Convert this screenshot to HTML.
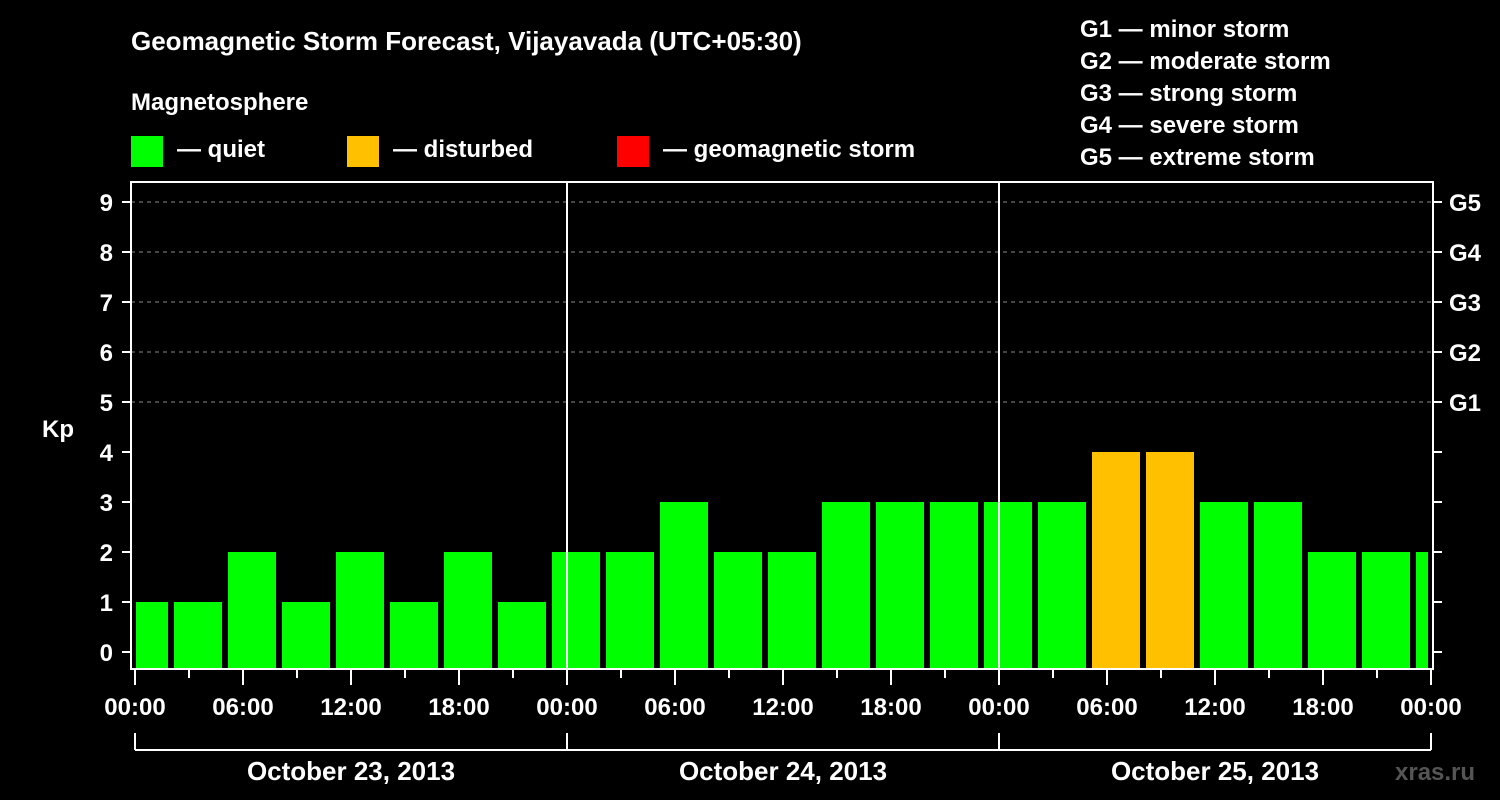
<!DOCTYPE html>
<html><head><meta charset="utf-8"><style>
html,body{margin:0;padding:0;background:#000;}
svg{display:block;font-family:"Liberation Sans",sans-serif;font-weight:bold;}
</style></head><body>
<svg width="1500" height="800" xmlns="http://www.w3.org/2000/svg">
<text x="131" y="50" fill="#fff" font-size="26">Geomagnetic Storm Forecast, Vijayavada (UTC+05:30)</text>
<text x="131" y="110" fill="#fff" font-size="24">Magnetosphere</text>
<g><rect x="131" y="136" width="32" height="31" fill="#00ff00"/><text x="177" y="157" fill="#fff" font-size="24">— quiet</text></g>
<g><rect x="347" y="136" width="32" height="31" fill="#ffc000"/><text x="393" y="157" fill="#fff" font-size="24">— disturbed</text></g>
<g><rect x="617" y="136" width="32" height="31" fill="#ff0000"/><text x="663" y="157" fill="#fff" font-size="24">— geomagnetic storm</text></g>
<g fill="#fff" font-size="24">
<text x="1080" y="37">G1 — minor storm</text>
<text x="1080" y="69">G2 — moderate storm</text>
<text x="1080" y="101">G3 — strong storm</text>
<text x="1080" y="133">G4 — severe storm</text>
<text x="1080" y="165">G5 — extreme storm</text>
</g>
<g id="plot"></g>
<text x="1395" y="780" fill="#555" font-size="24">xras.ru</text>
</svg>
<script>
const kpValues=[1,1,2,1,2,1,2,1,2,2,3,2,2,3,3,3,3,3,4,4,3,3,2,2,2];
const yTicks=[0,1,2,3,4,5,6,7,8,9];
const gLabels=["G1","G2","G3","G4","G5"];
const hourLabels=["00:00","06:00","12:00","18:00"];
const dayLabels=["October 23, 2013","October 24, 2013","October 25, 2013"];
const binOffsetHours=-5/6; // bins start at 23:10-ish offset from local midnight
const NS="http://www.w3.org/2000/svg";
const g=document.getElementById('plot');
const X0=135,PXH=18,L=131,R=1433,T=182,B=669;
const xs=h=>X0+h*PXH;
const ys=v=>652-50*v;
function el(t,a){const e=document.createElementNS(NS,t);for(const k in a)e.setAttribute(k,a[k]);g.appendChild(e);return e;}
// grid
for(let v=5;v<=9;v++){const e=el('line',{x1:L,x2:R,y1:ys(v),y2:ys(v),stroke:'#888','stroke-dasharray':'4,4','stroke-width':1});

}
// bars
kpValues.forEach((v,i)=>{
 let x1=xs(binOffsetHours+3*i),x2=x1+48;
 x1=Math.max(x1,136);x2=Math.min(x2,1428);
 const c=v>=5?'#ff0000':(v>=4?'#ffc000':'#00ff00');
 const e=el('rect',{x:x1,y:ys(v),width:x2-x1,height:668-ys(v),fill:c});
 
 
});
// day separators
[1,2].forEach(d=>{const e=el('line',{x1:xs(24*d),x2:xs(24*d),y1:T,y2:B,stroke:'#fff','stroke-width':2});

});
// frame
const fr=el('rect',{x:L,y:T,width:R-L,height:B-T,fill:'none',stroke:'#fff','stroke-width':2});


// y ticks
yTicks.forEach(v=>{
 el('line',{x1:122,x2:L,y1:ys(v),y2:ys(v),stroke:'#fff','stroke-width':2});
 el('line',{x1:R,x2:R+9,y1:ys(v),y2:ys(v),stroke:'#fff','stroke-width':2});
 const t=el('text',{x:113,y:ys(v)+9,fill:'#fff','font-size':24,'text-anchor':'end'});t.textContent=v;
 
 
});
gLabels.forEach((s,i)=>{const t=el('text',{x:1449,y:ys(5+i)+9,fill:'#fff','font-size':24});t.textContent=s;

});
const yt=el('text',{x:42,y:437,fill:'#fff','font-size':24});yt.textContent='Kp';


// x ticks
for(let h=0;h<=72;h+=3){const major=h%6==0;el('line',{x1:xs(h),x2:xs(h),y1:B,y2:B+(major?16:9),stroke:'#fff','stroke-width':2});}
for(let h=0;h<=72;h+=6){const t=el('text',{x:xs(h),y:715,fill:'#fff','font-size':24,'text-anchor':'middle'});t.textContent=hourLabels[(h/6)%4];

}
// day bracket
el('line',{x1:xs(0),x2:xs(72),y1:750,y2:750,stroke:'#fff','stroke-width':2});
for(let d=0;d<=3;d++)el('line',{x1:xs(24*d),x2:xs(24*d),y1:733,y2:750,stroke:'#fff','stroke-width':2});
dayLabels.forEach((s,d)=>{const t=el('text',{x:xs(24*d+12),y:780,fill:'#fff','font-size':26,'text-anchor':'middle'});t.textContent=s;

});
</script>
</body></html>
